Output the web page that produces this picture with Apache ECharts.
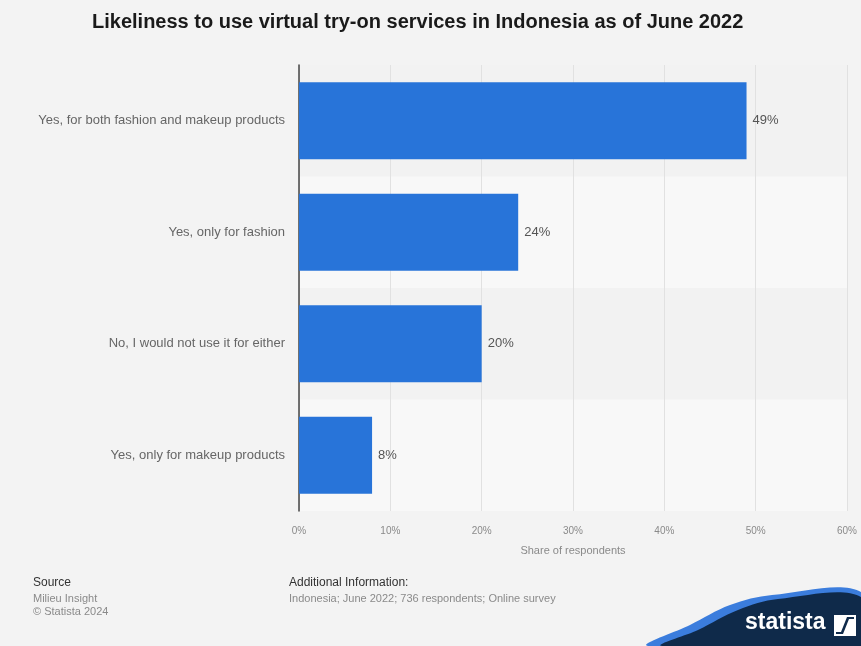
<!DOCTYPE html>
<html>
<head>
<meta charset="utf-8">
<script src="https://cdn.jsdelivr.net/npm/echarts@6/dist/echarts.min.js"></script>
<style>
  html, body { margin: 0; padding: 0; background: #f3f3f3; }
  #chart { width: 861px; height: 646px; }
</style>
</head>
<body>
<div id="chart"></div>
<script>
// Survey answers (top to bottom) and their share of respondents in percent
const categories = [
  'Yes, for both fashion and makeup products',
  'Yes, only for fashion',
  'No, I would not use it for either',
  'Yes, only for makeup products'
];
const shares = [49, 24, 20, 8];
const axisMax = 60;
const axisStep = 10;

const font = '"Liberation Sans", Arial, Helvetica, sans-serif';
const navy = '#0f2a4a';
const chart = echarts.init(document.getElementById('chart'));

chart.setOption({
  backgroundColor: '#f3f3f3',
  animation: false,
  title: {
    text: 'Likeliness to use virtual try-on services in Indonesia as of June 2022',
    left: 87,
    top: 7,
    textStyle: { fontFamily: font, fontSize: 20, fontWeight: 'bold', color: '#1a1a1a' }
  },
  grid: { left: 299, right: 14, top: 65, bottom: 135, containLabel: false },
  xAxis: {
    type: 'value',
    min: 0,
    max: axisMax,
    interval: axisStep,
    name: 'Share of respondents',
    nameLocation: 'middle',
    nameGap: 34,
    nameTextStyle: { fontFamily: font, fontSize: 11, color: '#8a8a8a' },
    axisLine: { show: false },
    axisTick: { show: false },
    axisLabel: {
      fontFamily: font, fontSize: 10, color: '#8a8a8a', margin: 15,
      formatter: v => v + '%'
    },
    splitLine: { show: true, lineStyle: { color: '#e1e1e1', width: 1 } }
  },
  yAxis: {
    type: 'category',
    data: categories,
    inverse: true,
    axisLine: { show: true, lineStyle: { color: '#444', width: 1.5 } },
    axisTick: { show: false },
    axisLabel: { fontFamily: font, fontSize: 13, color: '#666', margin: 14 },
    splitArea: { show: true, areaStyle: { color: ['#f2f2f2', '#f8f8f8'] } }
  },
  series: [{
    type: 'bar',
    data: shares,
    barWidth: '69%',
    itemStyle: { color: '#2874d9' },
    label: {
      show: true,
      position: 'right',
      distance: 6,
      fontFamily: font,
      fontSize: 13,
      color: '#555',
      formatter: p => p.value + '%'
    }
  }],
  graphic: [
    { type: 'text', left: 33, top: 577,
      style: { text: 'Source', font: '12px ' + font, fill: '#333' } },
    { type: 'text', left: 33, top: 593,
      style: { text: 'Milieu Insight', font: '11px ' + font, fill: '#8a8a8a' } },
    { type: 'text', left: 33, top: 606,
      style: { text: '\u00A9 Statista 2024', font: '11px ' + font, fill: '#8a8a8a' } },
    { type: 'text', left: 289, top: 577,
      style: { text: 'Additional Information:', font: '12px ' + font, fill: '#333' } },
    { type: 'text', left: 289, top: 593,
      style: { text: 'Indonesia; June 2022; 736 respondents; Online survey', font: '11px ' + font, fill: '#8a8a8a' } },
    // brand ribbon in the lower right corner
    { type: 'polygon', z: 10,
      shape: { points: [[648, 646], [690, 625], [730, 605], [772, 595], [861, 592], [861, 646]], smooth: 0.35 },
      style: { fill: '#3b7ddd' } },
    { type: 'polygon', z: 11,
      shape: { points: [[662, 646], [698, 630], [738, 610], [778, 599], [861, 597], [861, 646]], smooth: 0.35 },
      style: { fill: navy } },
    { type: 'rect', z: 11, shape: { x: 760, y: 612, width: 101, height: 34 }, style: { fill: navy } },
    { type: 'text', z: 12, left: 745, top: 611,
      style: { text: 'statista', font: 'bold 23px ' + font, fill: '#ffffff' } },
    { type: 'rect', z: 12, shape: { x: 834, y: 615, width: 22, height: 21 }, style: { fill: '#ffffff' } },
    { type: 'polygon', z: 13,
      shape: { points: [[836, 634], [843, 634], [849, 619], [854, 619], [854, 617], [847, 617], [841, 632], [836, 632]] },
      style: { fill: navy } }
  ]
});
</script>
</body>
</html>
